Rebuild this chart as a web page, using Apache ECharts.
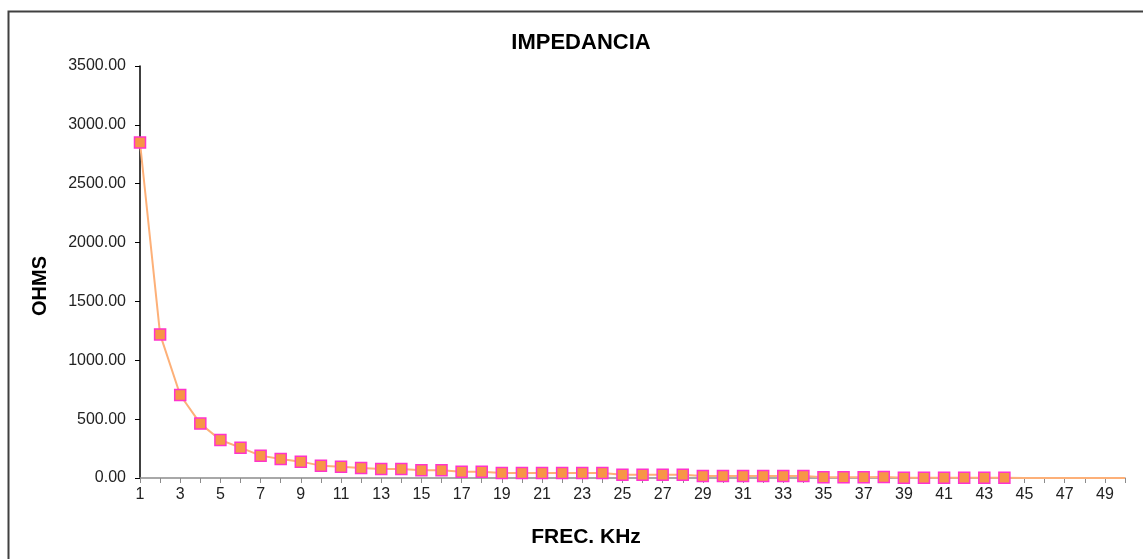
<!DOCTYPE html>
<html>
<head>
<meta charset="utf-8">
<script src="https://cdn.jsdelivr.net/npm/echarts@6/dist/echarts.min.js"></script>
<style>html,body{margin:0;padding:0;background:#fff;}#c{width:1143px;height:559px;}</style>
</head>
<body>
<div id="c"></div>
<script>
const categories = Array.from({length: 50}, (_, i) => String(i + 1));
const impedance = [2850, 1220, 705, 462, 323, 258, 190, 161, 139, 105,
  96, 85, 76, 76, 65, 65, 54, 54, 42, 42,
  42, 42, 42, 42, 28, 28, 28, 28, 17, 17,
  17, 17, 17, 17, 6, 6, 6, 8, 3, 3,
  3, 3, 3, 3];
const tail = [0, 0, 0, 0, 0, 0];
const yTicks = { min: 0, max: 3500, interval: 500 };

const data = impedance.map(v => ({ value: v }))
  .concat(tail.map(v => ({ value: v, symbol: 'none' })));

const chart = echarts.init(document.getElementById('c'));
chart.setOption({
  animation: false,
  backgroundColor: '#fff',
  graphic: [{
    type: 'rect', left: 6, top: 9, shape: { width: 1160, height: 580 },
    style: { fill: 'none', stroke: '#404040', lineWidth: 2 }, silent: true
  }, {
    type: 'text', x: 581, y: 43,
    style: { text: 'IMPEDANCIA', fontFamily: 'Liberation Sans', fontSize: 22, fontWeight: 'bold', fill: '#000',
      align: 'center', verticalAlign: 'middle' }, silent: true
  }, {
    type: 'text', x: 40, y: 286, rotation: Math.PI / 2,
    style: { text: 'OHMS', fontFamily: 'Liberation Sans', fontSize: 20, fontWeight: 'bold', fill: '#000',
      align: 'center', verticalAlign: 'middle' }, silent: true
  }, {
    type: 'text', x: 586, y: 537,
    style: { text: 'FREC. KHz', fontFamily: 'Liberation Sans', fontSize: 21, fontWeight: 'bold', fill: '#000',
      align: 'center', verticalAlign: 'middle' }, silent: true
  }],
  grid: { left: 140, right: 18, top: 66, bottom: 81 },
  xAxis: {
    type: 'category', data: categories, boundaryGap: false,
    axisLine: { lineStyle: { color: '#8c8c8c', width: 1.5 } },
    axisTick: { show: true, interval: 0, length: 5, lineStyle: { color: '#8c8c8c' } },
    axisLabel: { interval: 1, fontFamily: 'Liberation Sans', fontSize: 16, color: '#222', margin: 9 },
    splitLine: { show: false }
  },
  yAxis: {
    type: 'value', min: yTicks.min, max: yTicks.max, interval: yTicks.interval,
    axisLine: { show: true, lineStyle: { color: '#000', width: 1.5 } },
    axisTick: { show: true, length: 5, lineStyle: { color: '#000' } },
    axisLabel: { formatter: v => v.toFixed(2), fontFamily: 'Liberation Sans', fontSize: 16, color: '#222', margin: 14 },
    splitLine: { show: false }
  },
  series: [{
    type: 'line', data: data,
    symbol: 'rect', symbolSize: 11,
    lineStyle: { color: '#fdb078', width: 2 },
    itemStyle: { color: '#f79646', borderColor: '#ff33cc', borderWidth: 1.5 }
  }]
});
</script>
</body>
</html>
